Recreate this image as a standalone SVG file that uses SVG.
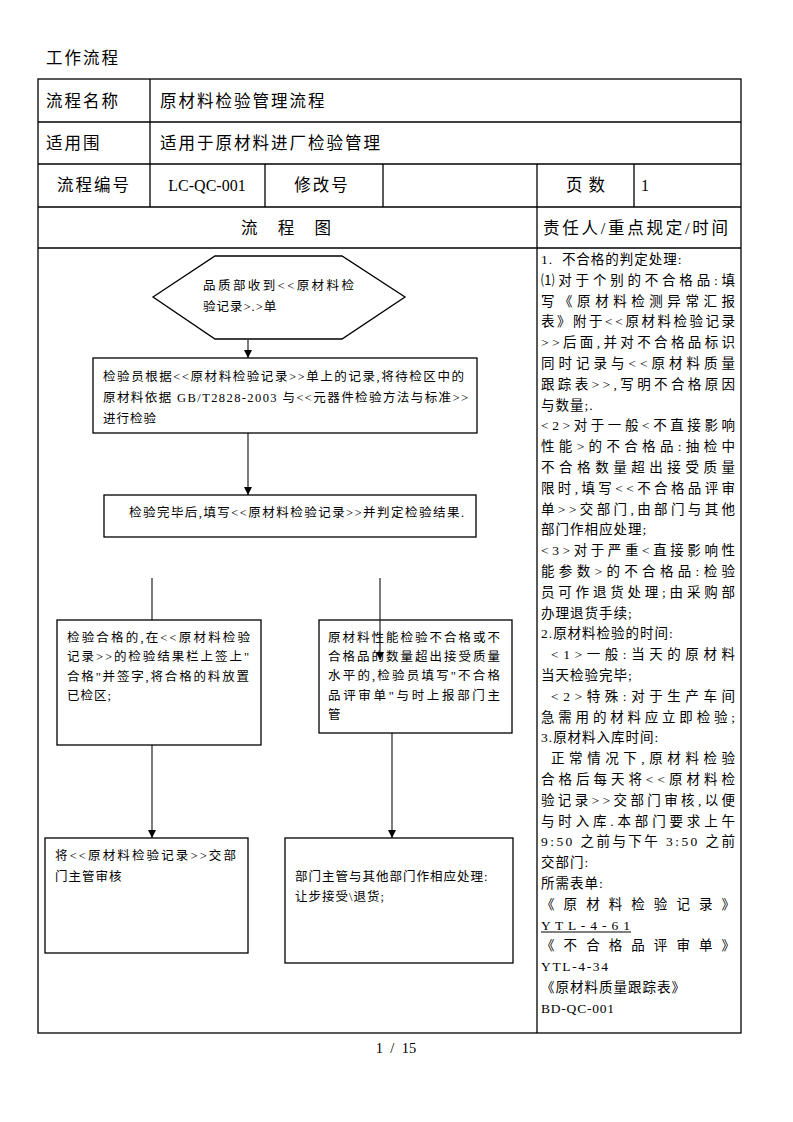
<svg xmlns="http://www.w3.org/2000/svg" width="793" height="1122" viewBox="0 0 793 1122">
<style>
.t{font-family:"Liberation Serif","Noto Sans CJK SC",serif;fill:#000}
.hd{font-size:16.5px;letter-spacing:2px}
.fc{font-size:12.5px;letter-spacing:1px}
.rc{font-size:13.5px;letter-spacing:1px}
.b{fill:#fff;stroke:#000;stroke-width:1.3}
.grid{stroke:#000;stroke-width:1.3;fill:none}
.conn{stroke:#222;stroke-width:1.2;fill:none}
</style>
<defs>
<marker id="arr" markerUnits="userSpaceOnUse" markerWidth="8" markerHeight="9" refX="8" refY="4" orient="auto">
<path d="M0,0 L8,4 L0,8 z" fill="#000"/>
</marker>
</defs>
<rect width="793" height="1122" fill="#fff"/>

<g id="header">
<text class="t hd" x="46" y="64">工作流程</text>
<rect class="grid" x="38" y="79" width="703" height="954"/>
<line class="grid" x1="38" y1="122" x2="741" y2="122"/>
<line class="grid" x1="38" y1="164" x2="741" y2="164"/>
<line class="grid" x1="38" y1="207" x2="741" y2="207"/>
<line class="grid" x1="38" y1="248" x2="741" y2="248"/>
<line class="grid" x1="150" y1="79" x2="150" y2="207"/>
<line class="grid" x1="265" y1="164" x2="265" y2="207"/>
<line class="grid" x1="383" y1="164" x2="383" y2="207"/>
<line class="grid" x1="537" y1="164" x2="537" y2="1033"/>
<line class="grid" x1="634" y1="164" x2="634" y2="207"/>
<text class="t hd" x="46" y="107">流程名称</text>
<text class="t hd" x="160" y="107">原材料检验管理流程</text>
<text class="t hd" x="46" y="149">适用围</text>
<text class="t hd" x="160" y="149">适用于原材料进厂检验管理</text>
<text class="t hd" x="94" y="191" text-anchor="middle">流程编号</text>
<text class="t" x="207" y="191" text-anchor="middle" font-size="16">LC-QC-001</text>
<text class="t hd" x="322" y="191" text-anchor="middle">修改号</text>
<text class="t hd" x="566" y="191" textLength="41">页 数</text>
<text class="t" x="641" y="191" font-size="16">1</text>
<text class="t hd" x="241" y="234" textLength="92">流 程 图</text>
<text class="t hd" x="543" y="234" textLength="187">责任人/重点规定/时间</text>
</g>

<g id="connectors">
<line class="conn" x1="248" y1="340" x2="248" y2="358" marker-end="url(#arr)"/>
<line class="conn" x1="248" y1="433" x2="248" y2="495" marker-end="url(#arr)"/>
<line class="conn" x1="152" y1="578" x2="152" y2="620"/>
<line class="conn" x1="152" y1="745" x2="152" y2="838" marker-end="url(#arr)"/>
<line class="conn" x1="392" y1="733" x2="392" y2="838" marker-end="url(#arr)"/>
</g>

<g id="n-start">
<polygon class="b" points="153,297 215,256 342,256 405,297 342,339 215,339"/>
<text class="t fc" x="203" y="290" textLength="152">品质部收到&lt;&lt;原材料检</text>
<text class="t fc" x="203" y="311">验记录&gt;.&gt;单</text>
</g>

<g id="n-inspect">
<rect class="b" x="93" y="358" width="384" height="75"/>
<text class="t fc" x="103" y="381" textLength="362">检验员根据&lt;&lt;原材料检验记录&gt;&gt;单上的记录,将待检区中的</text>
<text class="t fc" x="103" y="402" textLength="366">原材料依据 GB/T2828-2003 与&lt;&lt;元器件检验方法与标准&gt;&gt;</text>
<text class="t fc" x="103" y="423">进行检验</text>
</g>

<g id="n-record">
<rect class="b" x="104" y="495" width="372" height="42"/>
<text class="t fc" x="129" y="517" textLength="336">检验完毕后,填写&lt;&lt;原材料检验记录&gt;&gt;并判定检验结果.</text>
</g>

<g id="n-pass">
<rect class="b" x="57" y="620" width="204" height="125"/>
<text class="t fc" x="67" y="642" textLength="184">检验合格的,在&lt;&lt;原材料检验</text>
<text class="t fc" x="67" y="661" textLength="183">记录&gt;&gt;的检验结果栏上签上"</text>
<text class="t fc" x="67" y="681" textLength="183">合格"并签字,将合格的料放置</text>
<text class="t fc" x="67" y="700">已检区;</text>
</g>

<g id="n-fail">
<rect class="b" x="319" y="620" width="193" height="113"/>
<text class="t fc" x="328" y="642" textLength="173">原材料性能检验不合格或不</text>
<text class="t fc" x="328" y="661" textLength="173">合格品的数量超出接受质量</text>
<text class="t fc" x="328" y="680" textLength="173">水平的,检验员填写"不合格</text>
<text class="t fc" x="328" y="700" textLength="173">品评审单"与时上报部门主</text>
<text class="t fc" x="328" y="719">管</text>
</g>

<line class="conn" x1="380" y1="578" x2="380" y2="660" marker-end="url(#arr)"/>

<g id="n-review">
<rect class="b" x="45" y="838" width="203" height="115"/>
<text class="t fc" x="55" y="860" textLength="182">将&lt;&lt;原材料检验记录&gt;&gt;交部</text>
<text class="t fc" x="55" y="881">门主管审核</text>
</g>

<g id="n-handle">
<rect class="b" x="285" y="838" width="228" height="125"/>
<text class="t fc" x="295" y="881">部门主管与其他部门作相应处理:</text>
<text class="t fc" x="295" y="901">让步接受\退货;</text>
</g>

<g id="notes" class="t rc">
<text x="541" y="264" xml:space="preserve">1.  不合格的判定处理:</text>
<text x="541" y="285" textLength="195">⑴对于个别的不合格品:填</text>
<text x="541" y="306" textLength="195">写《原材料检测异常汇报</text>
<text x="541" y="326" textLength="195">表》附于&lt;&lt;原材料检验记录</text>
<text x="541" y="347" textLength="195">&gt;&gt;后面,并对不合格品标识</text>
<text x="541" y="368" textLength="195">同时记录与&lt;&lt;原材料质量</text>
<text x="541" y="389" textLength="195">跟踪表&gt;&gt;,写明不合格原因</text>
<text x="541" y="410">与数量;.</text>
<text x="541" y="430" textLength="195">&lt;2&gt;对于一般&lt;不直接影响</text>
<text x="541" y="451" textLength="195">性能&gt;的不合格品:抽检中</text>
<text x="541" y="472" textLength="195">不合格数量超出接受质量</text>
<text x="541" y="493" textLength="195">限时,填写&lt;&lt;不合格品评审</text>
<text x="541" y="514" textLength="195">单&gt;&gt;交部门,由部门与其他</text>
<text x="541" y="534">部门作相应处理;</text>
<text x="541" y="555" textLength="195">&lt;3&gt;对于严重&lt;直接影响性</text>
<text x="541" y="576" textLength="195">能参数&gt;的不合格品:检验</text>
<text x="541" y="597" textLength="195">员可作退货处理;由采购部</text>
<text x="541" y="618">办理退货手续;</text>
<text x="541" y="638">2.原材料检验的时间:</text>
<text x="551" y="659" textLength="185">&lt;1&gt;一般:当天的原材料</text>
<text x="541" y="680">当天检验完毕;</text>
<text x="551" y="701" textLength="185">&lt;2&gt;特殊:对于生产车间</text>
<text x="541" y="722" textLength="195">急需用的材料应立即检验;</text>
<text x="541" y="742">3.原材料入库时间:</text>
<text x="551" y="763" textLength="185">正常情况下,原材料检验</text>
<text x="541" y="784" textLength="195">合格后每天将&lt;&lt;原材料检</text>
<text x="541" y="805" textLength="195">验记录&gt;&gt;交部门审核,以便</text>
<text x="541" y="826" textLength="195">与时入库.本部门要求上午</text>
<text x="541" y="846" textLength="195">9:50 之前与下午 3:50 之前</text>
<text x="541" y="867">交部门:</text>
<text x="541" y="888">所需表单:</text>
<text x="541" y="909" textLength="195">《 原 材 料 检 验 记 录 》</text>
<text x="541" y="930" textLength="90">Y T L - 4 - 6 1</text>
<text x="541" y="950" textLength="195">《 不 合 格 品 评 审 单 》</text>
<text x="541" y="971" textLength="68">YTL-4-34</text>
<text x="541" y="992">《原材料质量跟踪表》</text>
<text x="541" y="1013" textLength="74">BD-QC-001</text>
</g>
<line x1="541" y1="932" x2="631" y2="932" stroke="#000" stroke-width="1"/>

<text class="t" x="396" y="1053" font-size="14.5" text-anchor="middle" xml:space="preserve">1  /  15</text>
</svg>
